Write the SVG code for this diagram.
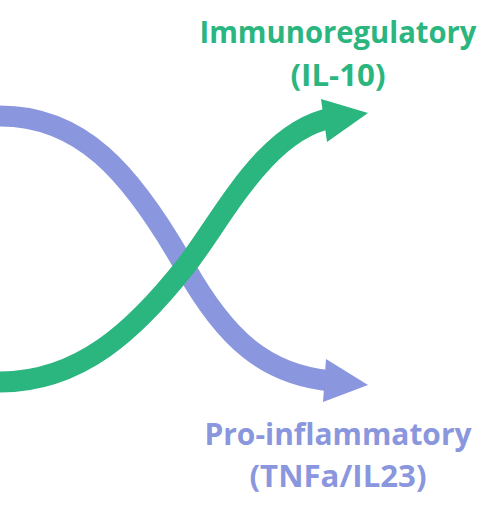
<svg xmlns="http://www.w3.org/2000/svg" width="500" height="520" viewBox="0 0 500 520">
  <style>
    .shaft { fill: none; stroke-width: 21; stroke-linecap: butt; }
    .green { stroke: #2bb57f; }
    .purple { stroke: #8a96dd; }
    .lbl { font-family: "Open Sans", "Liberation Sans", sans-serif; font-weight: 700; font-size: 30px; text-anchor: middle; }
  </style>
  <rect width="500" height="520" fill="#ffffff"/>
  <g id="connectors">
    <g id="pro-inflammatory-arrow">
      <path class="shaft purple" d="M-5,116 L0,116 C80,116 130,170 185,267 C225,338 265,375 332,381"/>
      <polygon fill="#8a96dd" points="326,359 368,385 323,402"/>
    </g>
    <g id="immunoregulatory-arrow">
      <path class="shaft green" d="M-5,382 L0,382 C80,382 135,330 185,267 C222,220 265,130 332,118"/>
      <polygon fill="#2bb57f" points="321,99 368,113 327,142"/>
    </g>
  </g>
  <g id="immunoregulatory">
    <text class="lbl" x="338" y="43" fill="#2bb57f" textLength="277" lengthAdjust="spacingAndGlyphs">Immunoregulatory</text>
    <text class="lbl" x="338" y="86" fill="#2bb57f" textLength="95" lengthAdjust="spacingAndGlyphs">(IL-10)</text>
  </g>
  <g id="pro-inflammatory">
    <text class="lbl" x="338" y="445" fill="#8a96dd" textLength="267" lengthAdjust="spacingAndGlyphs">Pro-inflammatory</text>
    <text class="lbl" x="338" y="487" fill="#8a96dd" textLength="177" lengthAdjust="spacingAndGlyphs">(TNFa/IL23)</text>
  </g>
</svg>
